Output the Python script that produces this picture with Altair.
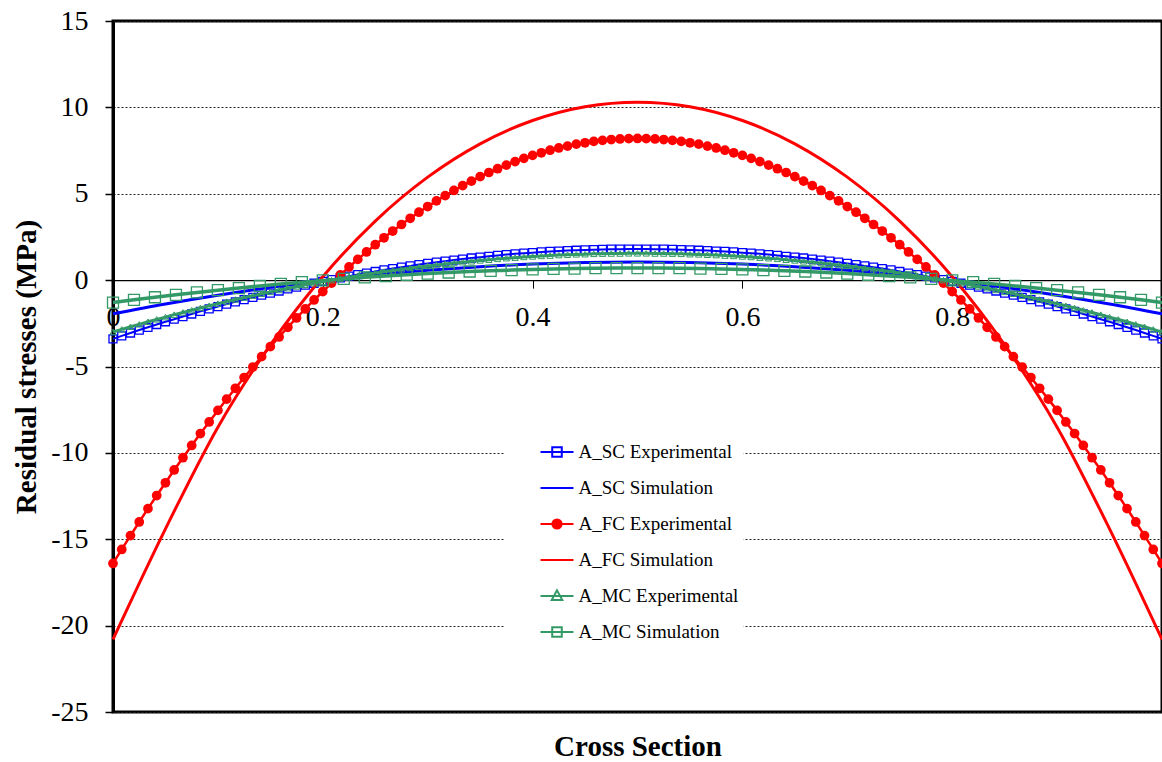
import altair as alt
import pandas as pd

# ---------------- data ----------------
SERIES = ["A_SC Experimental", "A_SC Simulation", "A_FC Experimental",
          "A_FC Simulation", "A_MC Experimental", "A_MC Simulation"]
COLORS = ["#0000FF", "#0000FF", "#FF0000", "#FF0000", "#339966", "#339966"]

X_TICKS = [0, 0.2, 0.4, 0.6, 0.8, 1]
Y_TICKS = [-25, -20, -15, -10, -5, 0, 5, 10, 15]

# sampling grids along the cross section
x_exp = [i / 120 for i in range(121)]
x_mc_sim = [i / 50 for i in range(51)]
x_sim = [i / 20 for i in range(21)]

sc_exp = [-3.40, -3.23, -3.06, -2.89, -2.73, -2.57, -2.41, -2.26, -2.11, -1.96,
          -1.81, -1.67, -1.53, -1.39, -1.26, -1.13, -1.00, -0.87, -0.75, -0.63,
          -0.51, -0.40, -0.29, -0.18, -0.07, 0.03, 0.13, 0.23, 0.32, 0.41,
          0.50, 0.59, 0.67, 0.75, 0.82, 0.90, 0.97, 1.04, 1.10, 1.16,
          1.22, 1.28, 1.33, 1.38, 1.43, 1.48, 1.52, 1.56, 1.59, 1.63,
          1.66, 1.68, 1.71, 1.73, 1.75, 1.76, 1.78, 1.79, 1.79, 1.80,
          1.80,
          1.80, 1.79, 1.79, 1.78, 1.76, 1.75, 1.73, 1.71, 1.68, 1.66,
          1.63, 1.59, 1.56, 1.52, 1.48, 1.43, 1.38, 1.33, 1.28, 1.22,
          1.16, 1.10, 1.04, 0.97, 0.90, 0.82, 0.75, 0.67, 0.59, 0.50,
          0.41, 0.32, 0.23, 0.13, 0.03, -0.07, -0.18, -0.29, -0.40, -0.51,
          -0.63, -0.75, -0.87, -1.00, -1.13, -1.26, -1.39, -1.53, -1.67, -1.81,
          -1.96, -2.11, -2.26, -2.41, -2.57, -2.73, -2.89, -3.06, -3.23, -3.40]

sc_sim = [-1.95, -1.38, -0.87, -0.42, -0.03, 0.30, 0.57, 0.78, 0.93, 1.02, 1.05,
          1.02, 0.93, 0.78, 0.57, 0.30, -0.03, -0.42, -0.87, -1.38, -1.95]

fc_exp = [-16.40, -15.59, -14.79, -14.00, -13.23, -12.47, -11.73, -10.99, -10.28, -9.57,
          -8.88, -8.21, -7.54, -6.89, -6.26, -5.64, -5.03, -4.43, -3.85, -3.29,
          -2.73, -2.19, -1.67, -1.15, -0.66, -0.17, 0.30, 0.76, 1.20, 1.63,
          2.05, 2.45, 2.84, 3.22, 3.58, 3.93, 4.26, 4.59, 4.89, 5.19,
          5.47, 5.73, 5.99, 6.23, 6.45, 6.66, 6.86, 7.05, 7.22, 7.37,
          7.52, 7.65, 7.76, 7.87, 7.95, 8.03, 8.09, 8.14, 8.17, 8.19,
          8.20,
          8.19, 8.17, 8.14, 8.09, 8.03, 7.95, 7.87, 7.76, 7.65, 7.52,
          7.37, 7.22, 7.05, 6.86, 6.66, 6.45, 6.23, 5.99, 5.73, 5.47,
          5.19, 4.89, 4.59, 4.26, 3.93, 3.58, 3.22, 2.84, 2.45, 2.05,
          1.63, 1.20, 0.76, 0.30, -0.17, -0.66, -1.15, -1.67, -2.19, -2.73,
          -3.29, -3.85, -4.43, -5.03, -5.64, -6.26, -6.89, -7.54, -8.21, -8.88,
          -9.57, -10.28, -10.99, -11.73, -12.47, -13.23, -14.00, -14.79, -15.59, -16.40]

fc_sim = [-20.80, -14.40, -8.51, -3.75, 0.20, 3.42, 5.96, 7.89, 9.24, 10.04, 10.30,
          10.04, 9.24, 7.89, 5.96, 3.42, 0.20, -3.75, -8.51, -14.40, -20.80]

mc_exp = [-3.00, -2.85, -2.70, -2.56, -2.41, -2.27, -2.14, -2.00, -1.87, -1.74,
          -1.61, -1.48, -1.36, -1.24, -1.12, -1.01, -0.90, -0.79, -0.68, -0.57,
          -0.47, -0.37, -0.27, -0.18, -0.09, 0.00, 0.09, 0.17, 0.26, 0.34,
          0.41, 0.49, 0.56, 0.63, 0.70, 0.76, 0.82, 0.88, 0.94, 0.99,
          1.04, 1.09, 1.14, 1.18, 1.23, 1.27, 1.30, 1.34, 1.37, 1.40,
          1.42, 1.45, 1.47, 1.49, 1.50, 1.52, 1.53, 1.54, 1.54, 1.55,
          1.55,
          1.55, 1.54, 1.54, 1.53, 1.52, 1.50, 1.49, 1.47, 1.45, 1.42,
          1.40, 1.37, 1.34, 1.30, 1.27, 1.23, 1.18, 1.14, 1.09, 1.04,
          0.99, 0.94, 0.88, 0.82, 0.76, 0.70, 0.63, 0.56, 0.49, 0.41,
          0.34, 0.26, 0.17, 0.09, 0.00, -0.09, -0.18, -0.27, -0.37, -0.47,
          -0.57, -0.68, -0.79, -0.90, -1.01, -1.12, -1.24, -1.36, -1.48, -1.61,
          -1.74, -1.87, -2.00, -2.14, -2.27, -2.41, -2.56, -2.70, -2.85, -3.00]

mc_sim = [-1.30, -1.14, -0.99, -0.85, -0.71, -0.58, -0.46, -0.34, -0.22, -0.12,
          -0.02, 0.07, 0.16, 0.24, 0.31, 0.38, 0.44, 0.50, 0.54, 0.58,
          0.62, 0.65, 0.67, 0.69, 0.70,
          0.70,
          0.70, 0.69, 0.67, 0.65, 0.62, 0.58, 0.54, 0.50, 0.44, 0.38,
          0.31, 0.24, 0.16, 0.07, -0.02, -0.12, -0.22, -0.34, -0.46, -0.58,
          -0.71, -0.85, -0.99, -1.14, -1.30]

# legend glyphs (line + marker) as custom symbol paths
P_SQUARE = "M-1,0H1M-0.29,-0.29H0.29V0.29H-0.29Z"
P_LINE = "M-1,0H1"
P_CIRCLE = ("M-1,0H1"
            "M0.28,0A0.28,0.28,0,1,1,-0.28,0A0.28,0.28,0,1,1,0.28,0"
            "M0.16,0A0.16,0.16,0,1,1,-0.16,0A0.16,0.16,0,1,1,0.16,0"
            "M0.05,0A0.05,0.05,0,1,1,-0.05,0A0.05,0.05,0,1,1,0.05,0")
P_TRIANGLE = "M-1,0H1M0,-0.34L0.32,0.24H-0.32Z"
SHAPES = [P_SQUARE, P_LINE, P_CIRCLE, P_LINE, P_TRIANGLE, P_SQUARE]

# ---------------- layout ----------------
FONT = "Liberation Serif"
W, H = 1049, 691
Y_MIN, Y_MAX = -25, 15
ZERO_FROM_BOTTOM = H * (0 - Y_MIN) / (Y_MAX - Y_MIN)


def frame(xs, ys):
    return pd.DataFrame({"x": xs, "y": ys})


X = alt.X(
    "x:Q",
    scale=alt.Scale(domain=[0, 1], nice=False, zero=False),
    axis=alt.Axis(
        values=X_TICKS, offset=-ZERO_FROM_BOTTOM, grid=False,
        domainColor="black", domainWidth=1.3,
        tickColor="black", tickSize=8, tickWidth=1,
        labelFont=FONT, labelFontSize=28, labelColor="black", labelPadding=15,
        labelFlush=False, labelOverlap=False,
        labelExpr="datum.value >= 1 ? '' : '' + datum.value",
        title="Cross Section", titleFont=FONT, titleFontSize=29,
        titleFontWeight="bold", titleColor="black",
        titleY=475, titleBaseline="alphabetic",
    ),
)
Y = alt.Y(
    "y:Q",
    scale=alt.Scale(domain=[Y_MIN, Y_MAX], nice=False, zero=False),
    axis=alt.Axis(
        values=Y_TICKS, grid=True, gridColor="#222222", gridDash=[2, 2], gridWidth=1,
        domainColor="black", domainWidth=3,
        tickColor="black", tickSize=8, tickWidth=1.5,
        labelFont=FONT, labelFontSize=28, labelColor="black", labelPadding=17,
        labelExpr="'' + datum.value",
        title="Residual stresses (MPa)", titleFont=FONT, titleFontSize=29,
        titleFontWeight="bold", titleColor="black",
        titleAngle=270, titleX=-87, titleY=H / 2,
        titleAlign="center", titleBaseline="middle",
    ),
)


def line(df, color, width, interp="linear"):
    return alt.Chart(df).mark_line(color=color, strokeWidth=width,
                                   interpolate=interp).encode(x=X, y=Y)


def points(df, color, shape, size, filled, sw=1.3):
    return alt.Chart(df).mark_point(color=color, shape=shape, size=size,
                                    filled=filled, opacity=1,
                                    strokeWidth=sw).encode(x=X, y=Y)


d_sc_exp = frame(x_exp, sc_exp)
d_sc_sim = frame(x_sim, sc_sim)
d_fc_exp = frame(x_exp, fc_exp)
d_fc_sim = frame(x_sim, fc_sim)
d_mc_exp = frame(x_exp, mc_exp)
d_mc_sim = frame(x_mc_sim, mc_sim)

LEG = alt.Legend(
    orient="none", legendX=391.5, legendY=408.5, title=None,
    symbolSize=1089, symbolStrokeWidth=2, symbolOpacity=1, symbolOffset=30,
    labelFont=FONT, labelFontSize=19, labelColor="black", labelOffset=4,
    labelLimit=400, rowPadding=8, padding=5, fillColor="white",
)

legend_df = pd.DataFrame({"series": SERIES, "x": [0.5] * 6, "y": [0.0] * 6})
legend_layer = alt.Chart(legend_df).mark_point(opacity=0, filled=False).encode(
    x=X, y=Y,
    color=alt.Color("series:N", scale=alt.Scale(domain=SERIES, range=COLORS), legend=LEG),
    shape=alt.Shape("series:N", scale=alt.Scale(domain=SERIES, range=SHAPES), legend=LEG),
)

chart = alt.layer(
    line(d_sc_exp, COLORS[0], 2),
    points(d_sc_exp, COLORS[0], "square", 64, False),
    line(d_sc_sim, COLORS[1], 3, "monotone"),
    line(d_fc_exp, COLORS[2], 2.5),
    points(d_fc_exp, COLORS[2], "circle", 95, True),
    line(d_fc_sim, COLORS[3], 3, "monotone"),
    line(d_mc_exp, COLORS[4], 3),
    points(d_mc_exp, COLORS[4], "triangle-up", 40, False, 1),
    line(d_mc_sim, COLORS[5], 3.5),
    points(d_mc_sim, COLORS[5], "square", 121, False),
    legend_layer,
).properties(
    width=W, height=H,
    autosize=alt.AutoSizeParams(type="none"),
    padding={"left": 113, "top": 21, "right": 0, "bottom": 50},
    background="white",
).configure_view(stroke="black", strokeWidth=3)

chart.save("out.html", embed_options={"renderer": "svg", "actions": False})
